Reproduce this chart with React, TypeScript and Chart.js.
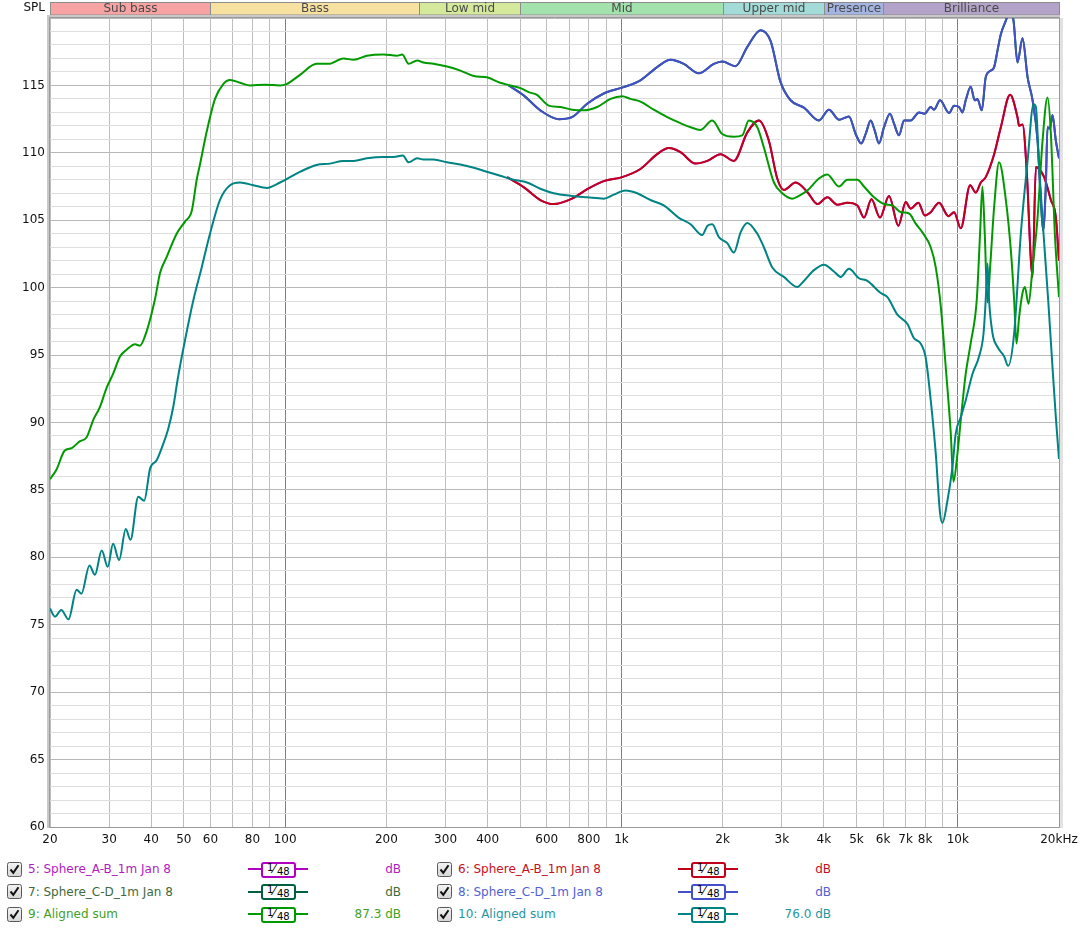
import React, { useEffect, useRef } from 'react';
import { Chart, registerables } from 'chart.js';

Chart.register(...registerables);

// ---------- data ----------
const alignedSum9Hz = [20, 20.9, 22.1, 23.2, 24.5, 25.7, 26.9, 28.1, 29.5, 30.8, 32.3, 33.8, 35.8, 37.0, 38.8, 41.0, 42.5, 44.5, 47.6, 50.4, 52.8, 54.6, 55.8, 58.5, 61.9, 65.5, 68.6, 73.5, 78.7, 87.2, 96.6, 101, 111, 124, 135, 149, 160, 175, 196, 215, 223, 233, 247, 258, 276, 303, 332, 364, 398, 436, 467, 501, 530, 561, 608, 658, 713, 772, 847, 928, 1005, 1064, 1139, 1248, 1368, 1498, 1605, 1719, 1862, 1994, 2159, 2287, 2392, 2535, 2652, 2841, 3008, 3221, 3371, 3570, 3866, 4095, 4434, 4696, 5029, 5263, 5637, 6037, 6394, 6768, 7164, 7499, 7851, 8311, 8602, 8904, 9211, 9533, 9710, 9980, 10210, 10560, 10930, 11390, 11650, 11840, 12030, 12260, 12480, 12830, 13270, 13900, 14380, 14710, 14950, 15220, 15580, 15830, 16230, 16690, 17270, 17870, 18490, 18920, 19440, 20000];
const alignedSum9Db = [85.8, 86.5, 87.9, 88.1, 88.6, 88.9, 90.2, 91.1, 92.6, 93.6, 94.9, 95.4, 95.8, 95.7, 96.8, 99.1, 101.1, 102.3, 104.0, 104.9, 105.7, 108.0, 109.1, 111.6, 114.0, 115.1, 115.4, 115.2, 115.0, 115.05, 115.0, 115.1, 115.8, 116.6, 116.6, 117.0, 116.9, 117.2, 117.3, 117.2, 117.3, 116.6, 116.85, 116.7, 116.6, 116.4, 116.1, 115.7, 115.6, 115.2, 115.0, 114.8, 114.5, 114.3, 113.5, 113.4, 113.2, 113.15, 113.4, 114.0, 114.2, 114.0, 113.8, 113.2, 112.65, 112.2, 111.9, 111.7, 112.4, 111.4, 111.2, 111.3, 112.4, 111.9, 110.4, 107.8, 107.0, 106.6, 106.8, 107.2, 108.1, 108.4, 107.5, 108.0, 108.0, 107.5, 106.7, 106.2, 106.1, 105.6, 105.5, 104.75, 104.1, 103.0, 101.5, 98.6, 94.1, 89.2, 85.6, 87.7, 90.2, 93.6, 95.9, 99.1, 104.0, 107.5, 104.0, 98.9, 101.5, 106.0, 109.3, 106.5, 102.8, 99.1, 95.85, 97.8, 99.6, 100.05, 98.8, 101.5, 105.2, 110.9, 114.1, 111.4, 104.0, 99.3];

const alignedSum10Hz = [20, 20.7, 21.6, 22.7, 24.0, 24.8, 26.2, 27.2, 28.5, 29.7, 30.8, 32.1, 33.6, 34.7, 36.6, 38.1, 39.7, 41.5, 43.4, 44.9, 46.5, 48.0, 50.4, 53.4, 56.5, 59.8, 64.0, 68.6, 73.5, 80.5, 88.2, 96.6, 103.5, 111, 124, 136, 149, 160, 175, 196, 210, 224, 233, 247, 258, 276, 303, 332, 364, 398, 436, 478, 524, 574, 629, 713, 791, 886, 949, 1028, 1114, 1220, 1336, 1478, 1605, 1739, 1803, 1862, 1949, 2064, 2159, 2261, 2366, 2535, 2652, 2809, 3041, 3334, 3488, 3736, 4001, 4284, 4486, 4749, 5085, 5386, 5901, 6178, 6615, 7085, 7412, 7761, 8031, 8311, 8602, 8860, 9006, 9318, 9643, 9863, 10210, 10560, 11060, 11570, 11930, 12110, 12260, 12390, 12690, 13130, 13740, 14120, 14710, 15400, 16130, 16800, 17070, 17460, 17990, 18570, 19130, 19570, 20000];
const alignedSum10Db = [76.2, 75.6, 76.1, 75.4, 77.6, 77.3, 79.4, 78.7, 80.5, 79.3, 81.0, 79.8, 82.1, 81.3, 84.5, 84.2, 86.6, 87.2, 88.4, 89.5, 91.15, 93.3, 96.1, 99.1, 101.5, 104.0, 106.5, 107.6, 107.8, 107.6, 107.4, 107.8, 108.2, 108.6, 109.1, 109.2, 109.4, 109.4, 109.6, 109.7, 109.7, 109.8, 109.3, 109.6, 109.5, 109.5, 109.3, 109.14, 108.9, 108.6, 108.3, 108.0, 107.8, 107.34, 107.0, 106.8, 106.7, 106.6, 106.9, 107.2, 107.0, 106.5, 106.1, 105.2, 104.7, 103.9, 104.6, 104.7, 103.75, 103.3, 102.6, 104.1, 104.8, 104.0, 103.0, 101.5, 100.8, 100.05, 100.5, 101.3, 101.7, 101.2, 100.8, 101.4, 100.7, 100.5, 99.6, 99.3, 98.0, 97.3, 96.25, 95.85, 94.8, 91.65, 87.7, 83.25, 82.55, 84.2, 86.7, 89.2, 90.4, 91.65, 93.6, 94.9, 96.6, 99.1, 101.8, 99.1, 96.6, 95.6, 94.9, 94.2, 96.6, 104.0, 109.4, 113.6, 113.4, 108.9, 104.0, 99.1, 94.1, 90.4, 87.3];

const sphereABHz = [457, 512, 574, 629, 713, 791, 886, 1005, 1139, 1277, 1383, 1498, 1661, 1799, 1971, 2159, 2366, 2563, 2744, 2906, 3041, 3296, 3570, 3824, 4095, 4385, 4696, 5029, 5263, 5538, 5872, 6245, 6661, 7003, 7247, 7638, 7975, 8311, 8798, 9383, 9750, 10210, 10880, 11310, 11710, 12110, 12830, 13430, 14310, 15050, 15220, 15580, 16050, 16500, 16690, 17070, 17460, 18070, 18920, 19570, 20000];
const sphereABDb = [108.2, 107.46, 106.5, 106.2, 106.6, 107.3, 107.9, 108.2, 108.8, 109.9, 110.35, 110.05, 109.2, 109.4, 109.9, 109.4, 111.5, 112.4, 110.9, 108.1, 107.25, 107.8, 107.1, 106.2, 106.7, 106.15, 106.3, 106.1, 105.2, 106.55, 105.2, 106.8, 104.6, 106.35, 105.86, 106.3, 105.36, 105.6, 106.3, 105.3, 105.6, 104.4, 107.6, 107.05, 107.8, 108.2, 109.9, 111.9, 114.3, 112.65, 112.0, 112.1, 108.45, 102.0, 100.8, 108.95, 108.8, 108.2, 106.5, 105.24, 102.0];

const sphereCDHz = [462, 512, 574, 651, 713, 791, 886, 1016, 1139, 1277, 1399, 1532, 1699, 1883, 1994, 2184, 2366, 2593, 2776, 2973, 3184, 3488, 3866, 4140, 4434, 4749, 4970, 5164, 5324, 5511, 5662, 5832, 6037, 6288, 6465, 6689, 6922, 7247, 7671, 7975, 8311, 8503, 8860, 9422, 9750, 10090, 10330, 10560, 10930, 11230, 11440, 11790, 12110, 12540, 12830, 13130, 13430, 13900, 14280, 14650, 15050, 15580, 16130, 16690, 17270, 17660, 17940, 18270, 18490, 18790, 19130, 19570, 20000];
const sphereCDDb = [115.0, 114.26, 113.15, 112.5, 112.65, 113.64, 114.4, 114.87, 115.37, 116.36, 116.9, 116.6, 115.9, 116.6, 116.78, 116.43, 117.84, 119.1, 118.3, 115.24, 113.9, 113.35, 112.4, 113.2, 112.46, 112.7, 111.4, 110.7, 111.4, 112.4, 111.66, 110.7, 111.9, 112.9, 112.16, 111.3, 112.4, 112.4, 113.0, 112.9, 113.4, 113.2, 113.9, 112.95, 113.5, 113.4, 113.0, 113.9, 114.9, 113.9, 114.0, 113.15, 115.6, 116.1, 116.36, 117.6, 118.8, 119.8, 120.6, 119.8, 116.7, 118.5, 115.6, 113.9, 110.9, 106.5, 104.25, 107.5, 111.9, 111.8, 112.8, 110.9, 109.6];

const xTickValues = [20, 30, 40, 50, 60, 70, 80, 90, 100, 200, 300, 400, 500, 600, 700, 800, 900, 1000, 2000, 3000, 4000, 5000, 6000, 7000, 8000, 9000, 10000, 20000];
const xTickLabels: Record<number, string> = {
  20: '20', 30: '30', 40: '40', 50: '50', 60: '60', 80: '80', 100: '100',
  200: '200', 300: '300', 400: '400', 600: '600', 800: '800',
  1000: '1k', 2000: '2k', 3000: '3k', 4000: '4k', 5000: '5k', 6000: '6k',
  7000: '7k', 8000: '8k', 10000: '10k', 20000: '20kHz',
};
const xDecades = [100, 1000, 10000];
const yMin = 60;
const yMax = 120;
const yLabelStep = 5;

const bandEdges = [20, 60, 250, 500, 2000, 4000, 6000, 20000];
const bandNames = ['Sub bass', 'Bass', 'Low mid', 'Mid', 'Upper mid', 'Presence', 'Brilliance'];
const bandColors = ['#f7a3a3', '#f7e1a0', '#d4e99c', '#a3e2ad', '#a3dbd8', '#a3b4e1', '#b3a3c8'];

type Trace = { name: string; line: string; text: string; value: string; hz: number[]; db: number[]; order: number };
const traces: Trace[] = [
  { name: '5: Sphere_A-B_1m Jan 8', line: '#b000c0', text: '#b01cc0', value: 'dB', hz: sphereABHz, db: sphereABDb, order: 6 },
  { name: '6: Sphere_A-B_1m Jan 8', line: '#c0001a', text: '#c4101e', value: 'dB', hz: sphereABHz, db: sphereABDb, order: 5 },
  { name: '7: Sphere_C-D_1m Jan 8', line: '#00603f', text: '#3f6a3c', value: 'dB', hz: sphereCDHz, db: sphereCDDb, order: 4 },
  { name: '8: Sphere_C-D_1m Jan 8', line: '#4450c8', text: '#5262d2', value: 'dB', hz: sphereCDHz, db: sphereCDDb, order: 3 },
  { name: '9: Aligned sum', line: '#009a00', text: '#44a024', value: '87.3 dB', hz: alignedSum9Hz, db: alignedSum9Db, order: 2 },
  { name: '10: Aligned sum', line: '#008383', text: '#2496a2', value: '76.0 dB', hz: alignedSum10Hz, db: alignedSum10Db, order: 1 },
];

const FONT = "'DejaVu Sans', 'Liberation Sans', sans-serif";

const framePlugin = {
  id: 'rewFrame',
  afterDraw(chart: any) {
    const { ctx, chartArea: a, scales } = chart;
    const xs = scales.x;
    ctx.save();
    // frequency bands
    const bTop = 2.5;
    const bH = 12.5;
    ctx.font = `12px ${FONT}`;
    ctx.textAlign = 'center';
    ctx.textBaseline = 'middle';
    for (let i = 0; i < bandNames.length; i++) {
      const x0 = Math.round(xs.getPixelForValue(bandEdges[i])) + 0.5;
      const x1 = Math.round(xs.getPixelForValue(bandEdges[i + 1])) + 0.5;
      ctx.fillStyle = bandColors[i];
      ctx.fillRect(x0, bTop, x1 - x0, bH);
      ctx.strokeStyle = '#8c8c8c';
      ctx.lineWidth = 1;
      ctx.strokeRect(x0, bTop, x1 - x0, bH);
      ctx.fillStyle = '#4a4a4a';
      ctx.fillText(bandNames[i], (x0 + x1) / 2, bTop + bH / 2 + 0.5);
    }
    // SPL label
    ctx.fillStyle = '#111';
    ctx.textAlign = 'right';
    ctx.fillText('SPL', 45, 8);
    // frame
    const L = a.left, T = a.top, R = a.right, B = a.bottom;
    ctx.fillStyle = '#c8c8c8';
    ctx.fillRect(L - 3, T - 3, 3, B - T + 4);
    ctx.fillRect(L - 3, T - 3, R - L + 4, 3);
    ctx.fillStyle = '#e2e2e2';
    ctx.fillRect(R + 1, T, 3, B - T + 1);
    ctx.strokeStyle = '#9a9a9a';
    ctx.lineWidth = 1;
    ctx.beginPath();
    ctx.moveTo(L - 0.5, B + 0.5);
    ctx.lineTo(L - 0.5, T - 0.5);
    ctx.lineTo(R + 0.5, T - 0.5);
    ctx.lineTo(R + 0.5, B + 0.5);
    ctx.lineTo(L - 0.5, B + 0.5);
    ctx.stroke();
    ctx.restore();
  },
};

function Checkbox() {
  return (
    <svg width="15" height="15" viewBox="0 0 15 15" style={{ position: 'absolute', left: 0, top: 0 }}>
      <defs>
        <linearGradient id="cbg" x1="0" y1="0" x2="0" y2="1">
          <stop offset="0" stopColor="#f4f4f4" />
          <stop offset="1" stopColor="#d6d6d6" />
        </linearGradient>
      </defs>
      <rect x="0.5" y="0.5" width="14" height="14" rx="2" fill="url(#cbg)" stroke="#5a5a5a" />
      <path d="M3.5 7.5 L6.3 10.8 L11.5 3.2" fill="none" stroke="#111" strokeWidth="2" />
    </svg>
  );
}

function Legend() {
  const rowY = [869, 891.6, 914.2];
  const colX = [0, 430];
  return (
    <>
      {traces.map((t, i) => {
        const col = colX[i % 2];
        const cy = rowY[Math.floor(i / 2)];
        return (
          <div key={t.name}>
            <div style={{ position: 'absolute', left: col + 7, top: cy - 7.5, width: 15, height: 15 }}>
              <Checkbox />
            </div>
            <div style={{ position: 'absolute', left: col + 28, top: cy - 8, height: 16, lineHeight: '16px', fontSize: 12, color: t.text, whiteSpace: 'nowrap' }}>{t.name}</div>
            <div style={{ position: 'absolute', left: col + 248, top: cy - 1, width: 60, height: 2, background: t.line }} />
            <div style={{ position: 'absolute', left: col + 261, top: cy - 7.5, width: 31, height: 12, border: `2px solid ${t.line}`, borderRadius: 3, background: '#fff', fontSize: 11, color: '#000', lineHeight: '12px', whiteSpace: 'nowrap' }}>
              <span style={{ position: 'absolute', left: 4, top: -2, fontSize: 10 }}>1</span>
              <span style={{ position: 'absolute', left: 10, top: -1, fontSize: 12 }}>⁄</span>
              <span style={{ position: 'absolute', left: 14, top: 2, fontSize: 10 }}>48</span>
            </div>
            <div style={{ position: 'absolute', left: col + 300, width: 101, top: cy - 8, height: 16, lineHeight: '16px', fontSize: 12, color: t.text, textAlign: 'right', whiteSpace: 'nowrap' }}>{t.value}</div>
          </div>
        );
      })}
    </>
  );
}

export default function App() {
  const canvasRef = useRef<HTMLCanvasElement | null>(null);

  useEffect(() => {
    const canvas = canvasRef.current;
    if (!canvas) return;
    const datasets = traces.map((t) => ({
      label: t.name,
      data: t.hz.map((f, i) => ({ x: f, y: t.db[i] })),
      borderColor: t.line,
      backgroundColor: t.line,
      borderWidth: 2,
      pointRadius: 0,
      fill: false,
      cubicInterpolationMode: 'monotone' as const,
      clip: 0,
      order: t.order,
    }));
    const tickFont = { family: FONT, size: 12 };
    const chart = new Chart(canvas, {
      type: 'line',
      data: { datasets },
      plugins: [framePlugin],
      options: {
        responsive: false,
        animation: false,
        devicePixelRatio: 1,
        events: [],
        layout: { padding: { left: 0, right: 26, top: 18, bottom: 0 } },
        plugins: {
          legend: { display: false },
          tooltip: { enabled: false },
          title: { display: false },
        },
        scales: {
          x: {
            type: 'logarithmic',
            min: 20,
            max: 20000,
            afterBuildTicks: (s: any) => {
              s.ticks = xTickValues.map((v) => ({ value: v }));
            },
            afterFit: (s: any) => {
              s.height = 23;
            },
            ticks: {
              autoSkip: false,
              maxRotation: 0,
              minRotation: 0,
              padding: 6,
              color: '#111',
              font: tickFont,
              callback: (v: any) => xTickLabels[Number(v)] ?? '',
            },
            grid: {
              drawTicks: false,
              lineWidth: 1,
              color: (c: any) => (c.tick && xDecades.includes(c.tick.value) ? '#7e7e7e' : '#bdbdbd'),
            },
            border: { display: false },
          },
          y: {
            type: 'linear',
            min: yMin,
            max: yMax,
            afterFit: (s: any) => {
              s.width = 50;
            },
            ticks: {
              stepSize: 1,
              autoSkip: false,
              padding: 5,
              color: '#111',
              font: tickFont,
              callback: (v: any) => (Number(v) % yLabelStep === 0 && Number(v) < yMax ? String(v) : ''),
            },
            grid: {
              drawTicks: false,
              lineWidth: 1,
              color: (c: any) => (c.tick && c.tick.value % yLabelStep === 0 ? '#b8b8b8' : '#dedede'),
            },
            border: { display: false },
          },
        },
      } as any,
    });
    return () => chart.destroy();
  }, []);

  return (
    <div style={{ position: 'absolute', left: 0, top: 0, width: 1085, height: 929, background: '#fff', fontFamily: FONT, overflow: 'hidden' }}>
      <canvas ref={canvasRef} width={1085} height={850} style={{ position: 'absolute', left: 0, top: 0, width: 1085, height: 850 }} />
      <Legend />
    </div>
  );
}
